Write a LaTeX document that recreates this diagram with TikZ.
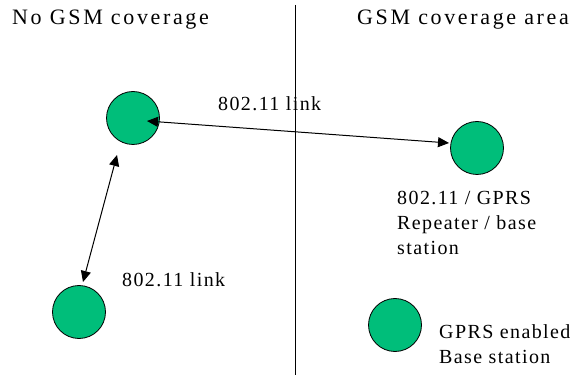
\documentclass[tikz,border=0pt]{standalone}
\usepackage{fontspec}
\setmainfont{Liberation Serif}
\newfontfamily\headfont[LetterSpace=12]{Liberation Serif}
\newfontfamily\bodyfont[LetterSpace=7]{Liberation Serif}
\usetikzlibrary{arrows.meta}
\definecolor{stationgreen}{RGB}{0,190,122}
\tikzset{
  station/.style={circle, draw=black, line width=0.8pt, fill=stationgreen,
    minimum size=53pt, inner sep=0pt},
  heading/.style={anchor=base west, inner sep=0pt,
    font=\headfont\fontsize{22}{26}\selectfont},
  label/.style={anchor=base west, inner sep=0pt,
    font=\bodyfont\fontsize{20}{25}\selectfont},
  link/.style={line width=1pt, {Triangle[length=11pt,width=10pt]}-{Triangle[length=11pt,width=10pt]}},
  divider/.style={line width=1pt}
}
\begin{document}
\begin{tikzpicture}[x=1pt, y=-1pt]
  \useasboundingbox (0,0) rectangle (578,379);

  % coverage boundary
  \coordinate (divtop) at (295,5);
  \coordinate (divbot) at (295,375);
  \draw[divider] (divtop) -- (divbot);

  % area headings
  \node[heading] (nocov) at (12,25) {No GSM coverage};
  \node[heading] (cov) at (357,25) {GSM coverage area};

  % stations
  \node[station] (tl) at (133,118) {};
  \node[station] (rr) at (477,148) {};
  \node[station] (bl) at (79,312) {};
  \node[station] (br) at (395,325) {};

  % 802.11 links
  \draw[link] ([shift={(14,3)}]tl.center) -- ([shift={(-28,-5)}]rr.center);
  \draw[link] ([shift={(-16,37)}]tl.center) -- ([shift={(4,-30)}]bl.center);

  % labels
  \node[label] (linkA) at (218,111) {802.11 link};
  \node[label] (linkB) at (122,287) {802.11 link};
  \node[label] (rrlab) at (397,205)
    {\begin{tabular}[t]{@{}l@{}}802.11 / GPRS\\Repeater / base\\station\end{tabular}};
  \node[label] (brlab) at (439,338)
    {\begin{tabular}[t]{@{}l@{}}GPRS enabled\\Base station\end{tabular}};
\end{tikzpicture}
\end{document}
